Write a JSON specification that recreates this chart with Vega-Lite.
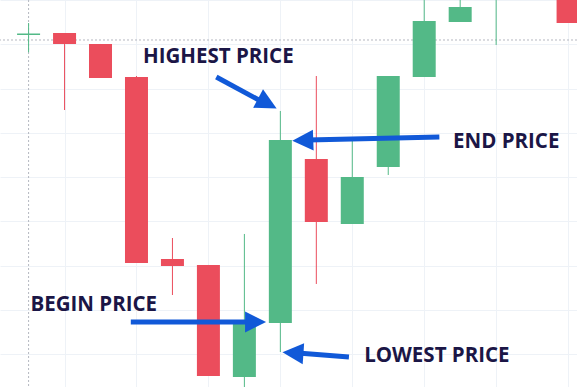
{
  "$schema": "https://vega.github.io/schema/vega-lite/v6.json",
  "width": 577,
  "height": 387,
  "autosize": {"type": "none"},
  "padding": 0,
  "background": "#ffffff",
  "config": {
    "view": {"stroke": null},
    "axis": {"labels": false, "ticks": false, "domain": false, "title": null, "grid": true, "gridColor": "#eef2f7", "gridWidth": 1}
  },
  "datasets": {
    "candles": [
      {"i": 0, "open": 82.1, "close": 82.45, "high": 84.8, "low": 78.2, "dir": "up"},
      {"i": 1, "open": 82.55, "close": 80.07, "high": 82.55, "low": 65.16, "dir": "down"},
      {"i": 2, "open": 80.07, "close": 72.39, "high": 80.07, "low": 72.39, "dir": "down"},
      {"i": 3, "open": 72.61, "close": 30.62, "high": 72.84, "low": 30.62, "dir": "down"},
      {"i": 4, "open": 31.52, "close": 29.94, "high": 36.26, "low": 23.39, "dir": "down"},
      {"i": 5, "open": 30.17, "close": 5.11, "high": 30.17, "low": 5.11, "dir": "down"},
      {"i": 6, "open": 4.88, "close": 17.3, "high": 37.17, "low": 1.5, "dir": "up"},
      {"i": 7, "open": 17.07, "close": 58.39, "high": 64.94, "low": 10.52, "dir": "up"},
      {"i": 8, "open": 54.1, "close": 39.88, "high": 72.84, "low": 25.88, "dir": "down"},
      {"i": 9, "open": 39.43, "close": 50.04, "high": 58.39, "low": 39.43, "dir": "up"},
      {"i": 10, "open": 52.3, "close": 72.84, "high": 72.84, "low": 50.49, "dir": "up"},
      {"i": 11, "open": 72.61, "close": 85.26, "high": 92, "low": 72.61, "dir": "up"},
      {"i": 12, "open": 85.03, "close": 88.42, "high": 92, "low": 85.03, "dir": "up"},
      {"i": 13, "open": 94, "close": 97, "high": 100, "low": 79.84, "dir": "up"},
      {"i": 15, "open": 95, "close": 84.81, "high": 96, "low": 84.81, "dir": "down"}
    ],
    "labels": [
      {"label": "HIGHEST PRICE", "x": 3.18, "y": 75.78},
      {"label": "END PRICE", "x": 11.8, "y": 56.58},
      {"label": "BEGIN PRICE", "x": 0.05, "y": 19.78},
      {"label": "LOWEST PRICE", "x": 9.33, "y": 8.27}
    ],
    "arrows": [
      {"name": "highest", "x": 5.219, "y": 72.61, "x2": 6.503, "y2": 66.97, "tx": 6.639, "ty": 66.63, "angle": 28},
      {"name": "begin", "x": 2.842, "y": 17.3, "x2": 6.175, "y2": 17.3, "tx": 6.311, "ty": 17.3, "angle": 0},
      {"name": "end", "x": 11.421, "y": 59.07, "x2": 7.76, "y2": 58.39, "tx": 7.623, "ty": 58.28, "angle": 178},
      {"name": "lowest", "x": 8.907, "y": 9.4, "x2": 7.486, "y2": 10.3, "tx": 7.35, "ty": 10.3, "angle": 184}
    ],
    "crosshair": [
      {"cx": 0, "cy": 80.97}
    ]
  },
  "layer": [
    {
      "data": {"name": "crosshair"},
      "mark": {"type": "rule", "color": "#b5b8c0", "strokeWidth": 1, "strokeDash": [2, 2]},
      "encoding": {
        "x": {"field": "cx", "type": "quantitative", "scale": {"domain": [-0.6557, 15.109], "nice": false, "zero": false}, "axis": {"values": [1, 3, 5, 7, 9, 11, 13, 15]}}
      }
    },
    {
      "data": {"name": "crosshair"},
      "mark": {"type": "rule", "color": "#b5b8c0", "strokeWidth": 1, "strokeDash": [2, 2]},
      "encoding": {
        "y": {"field": "cy", "type": "quantitative", "scale": {"domain": [2.62, 90], "nice": false, "zero": false}, "axis": {"values": [10, 20, 30, 40, 50, 60, 70, 80, 90]}}
      }
    },
    {
      "data": {"name": "candles"},
      "mark": {"type": "rule", "strokeWidth": 1, "clip": true},
      "encoding": {
        "x": {"field": "i", "type": "quantitative"},
        "y": {"field": "low", "type": "quantitative"},
        "y2": {"field": "high"},
        "color": {"field": "dir", "type": "nominal", "scale": {"domain": ["up", "down"], "range": ["#53b987", "#eb4d5c"]}, "legend": null}
      }
    },
    {
      "data": {"name": "candles"},
      "mark": {"type": "bar", "width": 23, "clip": true},
      "encoding": {
        "x": {"field": "i", "type": "quantitative"},
        "y": {"field": "open", "type": "quantitative"},
        "y2": {"field": "close"},
        "color": {"field": "dir", "type": "nominal", "legend": null}
      }
    },
    {
      "data": {"name": "arrows"},
      "mark": {"type": "rule", "color": "#1159d8", "strokeWidth": 5},
      "encoding": {
        "x": {"field": "x", "type": "quantitative"},
        "y": {"field": "y", "type": "quantitative"},
        "x2": {"field": "x2"},
        "y2": {"field": "y2"}
      }
    },
    {
      "data": {"name": "arrows"},
      "mark": {"type": "point", "shape": "M-1,-1L1,0L-1,1Z", "filled": true, "color": "#1159d8", "opacity": 1, "size": 441},
      "encoding": {
        "x": {"field": "tx", "type": "quantitative"},
        "y": {"field": "ty", "type": "quantitative"},
        "angle": {"field": "angle", "type": "quantitative", "scale": null}
      }
    },
    {
      "data": {"name": "labels"},
      "mark": {"type": "text", "align": "left", "baseline": "alphabetic", "font": "Open Sans", "fontWeight": "bold", "fontSize": 20.5, "color": "#1b1646"},
      "encoding": {
        "x": {"field": "x", "type": "quantitative"},
        "y": {"field": "y", "type": "quantitative"},
        "text": {"field": "label", "type": "nominal"}
      }
    }
  ]
}
